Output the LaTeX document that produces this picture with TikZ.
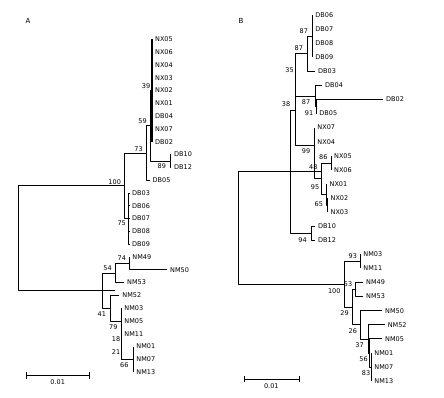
\documentclass[tikz,border=0pt]{standalone}
\usepackage{fontspec}
\setmainfont{DejaVu Sans}
\usetikzlibrary{arrows}

\begin{document}
\begin{tikzpicture}[x=1pt,y=-1pt,line join=bevel,line width=0.7pt,
  leaf/.style={anchor=west,inner xsep=2.8pt,inner ysep=0pt,font=\fontsize{6.5}{7}\selectfont},
  bs/.style={inner sep=0pt,font=\fontsize{6.5}{7}\selectfont},
  clade/.style={line width=1.3pt}]
\useasboundingbox (0,0) rectangle (444,397);
\node[bs,font=\fontsize{7}{8}\selectfont] (titA) at (28,20.7) {A};
\node[bs,font=\fontsize{7}{8}\selectfont] (titB) at (241,20.7) {B};
% tree A
\node[leaf] (aNX05) at (152,39.3) {NX05}; \node[leaf] (aNX06) at (152,52.1) {NX06};
\node[leaf] (aNX04) at (152,64.9) {NX04}; \node[leaf] (aNX03) at (152,77.7) {NX03};
\node[leaf] (aNX02) at (152,90.5) {NX02}; \node[leaf] (aNX01) at (152,103.3) {NX01};
\node[leaf] (aDB04) at (152,116.1) {DB04}; \node[leaf] (aNX07) at (152,128.9) {NX07};
\node[leaf] (aDB02) at (152,141.7) {DB02}; \node[leaf] (aDB10) at (171,154.5) {DB10};
\node[leaf] (aDB12) at (171,167.3) {DB12}; \node[leaf] (aDB05) at (149.5,180.1) {DB05};
\node[leaf] (aDB03) at (129,192.9) {DB03}; \node[leaf] (aDB06) at (129,205.7) {DB06};
\node[leaf] (aDB07) at (129,218.5) {DB07}; \node[leaf] (aDB08) at (129,231.3) {DB08};
\node[leaf] (aDB09) at (129,244.1) {DB09}; \node[leaf] (aNM49) at (129.3,256.9) {NM49};
\node[leaf] (aNM50) at (167,269.7) {NM50}; \node[leaf] (aNM53) at (124,282.5) {NM53};
\node[leaf] (aNM52) at (119.3,295.3) {NM52}; \node[leaf] (aNM03) at (121.3,308.1) {NM03};
\node[leaf] (aNM05) at (121.3,320.9) {NM05}; \node[leaf] (aNM11) at (121.3,333.7) {NM11};
\node[leaf] (aNM01) at (133.3,346.5) {NM01}; \node[leaf] (aNM07) at (133.3,359.3) {NM07};
\node[leaf] (aNM13) at (133.3,372.1) {NM13};
\coordinate (aRoot) at (18,238.1); \coordinate (aRootEnd) at (115,290.5);
\coordinate (a73) at (124,185.7); \coordinate (a59) at (146,152.9);
\coordinate (aJ) at (150.5,125.7); \coordinate (aNX) at (152,90.5);
\coordinate (a89) at (170,160.9); \coordinate (a75) at (128.7,218.5);
\coordinate (a41) at (102.7,290.5); \coordinate (a54) at (115.7,272.9);
\coordinate (a74) at (129.3,263.3); \coordinate (a79) at (110.7,308.1);
\coordinate (a18) at (121.3,320.9); \coordinate (a21) at (121.3,359.3);
\coordinate (a66) at (133.3,359.3);
\draw (aRoot) |- (a73); \draw (aRoot) |- (aRootEnd);
\draw (a73) |- (a59); \draw (a73) |- (a75);
\draw (a59) |- (aJ); \draw (a59) |- (aDB05.west);
\draw (aJ) |- (aNX); \draw (aJ) |- (a89);
\draw[clade] (aNX05.west) -- (aDB02.west);
\draw (a89) |- (aDB10.west); \draw (a89) |- (aDB12.west);
\foreach \l in {DB03,DB06,DB07,DB08,DB09} \draw (a75) |- (a\l.west);
\draw (a41) |- (a54); \draw (a41) |- (a79);
\draw (a54) |- (a74); \draw (a54) |- (aNM53.west);
\draw (a74) |- (aNM49.west); \draw (a74) |- (aNM50.west);
\draw (a79) |- (aNM52.west); \draw (a79) |- (a18);
\draw (aNM03.west) -- (a21); \draw (a21) -- (a66);
\draw[clade] (aNM01.west) -- (aNM13.west);
\node[bs] (aL100) at (114.7,181.7) {100}; \node[bs] (aL73) at (138.5,149) {73};
\node[bs] (aL59) at (142.5,121) {59}; \node[bs] (aL39) at (146,86) {39};
\node[bs] (aL89) at (161.8,166) {89}; \node[bs] (aL75) at (121.7,223) {75};
\node[bs] (aL74) at (121.8,258.3) {74}; \node[bs] (aL54) at (107.5,268.3) {54};
\node[bs] (aL41) at (101.8,314) {41}; \node[bs] (aL79) at (113.3,326.7) {79};
\node[bs] (aL18) at (116,339.3) {18}; \node[bs] (aL21) at (116,352.3) {21};
\node[bs] (aL66) at (124.3,365) {66};
\coordinate (aS1) at (26,375.7); \coordinate (aS2) at (90,375.7);
\draw[|-|] (aS1) -- (aS2);
\node[bs] (aScale) at (57.7,382.5) {0.01};
% tree B
\node[leaf] (bDB06) at (312.3,15) {DB06}; \node[leaf] (bDB07) at (312.3,29.1) {DB07};
\node[leaf] (bDB08) at (312.3,43.2) {DB08}; \node[leaf] (bDB09) at (312.3,57.2) {DB09};
\node[leaf] (bDB03) at (315,71.3) {DB03}; \node[leaf] (bDB04) at (322,85.4) {DB04};
\node[leaf] (bDB02) at (383,99.5) {DB02}; \node[leaf] (bDB05) at (316.3,113.6) {DB05};
\node[leaf] (bNX07) at (314.3,127.6) {NX07}; \node[leaf] (bNX04) at (314.3,141.7) {NX04};
\node[leaf] (bNX05) at (331,155.8) {NX05}; \node[leaf] (bNX06) at (331,169.9) {NX06};
\node[leaf] (bNX01) at (326.5,184) {NX01}; \node[leaf] (bNX02) at (327.5,198) {NX02};
\node[leaf] (bNX03) at (327.5,212.1) {NX03}; \node[leaf] (bDB10) at (315,226.2) {DB10};
\node[leaf] (bDB12) at (315,240.3) {DB12}; \node[leaf] (bNM03) at (360.3,254.4) {NM03};
\node[leaf] (bNM11) at (360.3,268.4) {NM11}; \node[leaf] (bNM49) at (363,282.5) {NM49};
\node[leaf] (bNM53) at (363,296.6) {NM53}; \node[leaf] (bNM50) at (382,310.7) {NM50};
\node[leaf] (bNM52) at (384.7,324.8) {NM52}; \node[leaf] (bNM05) at (382,338.8) {NM05};
\node[leaf] (bNM01) at (371.3,352.9) {NM01}; \node[leaf] (bNM07) at (371.3,367) {NM07};
\node[leaf] (bNM13) at (371.3,381.1) {NM13};
\coordinate (bRoot) at (238.7,228); \coordinate (bTopEnd) at (321.7,171.7);
\coordinate (b38) at (290,171.7); \coordinate (b35) at (295.5,110);
\coordinate (b87a) at (312.3,36.1); \coordinate (b87b) at (307.3,53.7);
\coordinate (b87c) at (315.3,96); \coordinate (b91) at (316.3,106.5);
\coordinate (b99) at (314.3,145.7); \coordinate (b48) at (321.7,178.7);
\coordinate (b86) at (331,162.9); \coordinate (b95) at (326.5,194.5);
\coordinate (b65) at (327.5,205); \coordinate (b94) at (311.3,233.3);
\coordinate (b29) at (344.7,284.3); \coordinate (b93) at (360.3,261.4);
\coordinate (b26) at (352,307.2); \coordinate (b53) at (355.3,289.6);
\coordinate (b37) at (360.3,324.8); \coordinate (bD) at (368,338.9);
\coordinate (bE) at (369.3,352.9); \coordinate (b83) at (371.3,367);
\draw (bRoot) |- (bTopEnd); \draw (bRoot) |- (b29);
\draw (b38) |- (b35); \draw (b38) |- (b94);
\draw (b35) |- (b87b); \draw (b35) |- (b87c); \draw (b35) |- (b99);
\draw (b87b) |- (b87a); \draw (b87b) |- (bDB03.west);
\draw[clade] (bDB06.west) -- (bDB09.west);
\draw (b87c) |- (bDB04.west); \draw (b87c) |- (b91);
\draw (b91) |- (bDB02.west); \draw (b91) |- (bDB05.west);
\draw (b99) |- (bNX07.west); \draw (b99) |- (bNX04.west); \draw (b99) |- (b48);
\draw (b48) |- (b86); \draw (b48) |- (b95);
\draw (b86) |- (bNX05.west); \draw (b86) |- (bNX06.west);
\draw (b95) |- (bNX01.west); \draw (b95) |- (b65);
\draw[clade] (bNX02.west) -- (bNX03.west);
\draw (b94) |- (bDB10.west); \draw (b94) |- (bDB12.west);
\draw (b29) |- (b93); \draw (b29) |- (b26);
\draw (b93) |- (bNM03.west); \draw (b93) |- (bNM11.west);
\draw (b26) |- (b53); \draw (b26) |- (b37);
\draw (b53) |- (bNM49.west); \draw (b53) |- (bNM53.west);
\draw (b37) |- (bNM50.west); \draw (b37) |- (bD);
\draw (bD) |- (bNM52.west); \draw (bD) |- (bE);
\draw (bE) |- (bNM05.west); \draw (bE) |- (b83);
\draw[clade] (bNM01.west) -- (bNM13.west);
\node[bs] (bL87a) at (303.8,30.7) {87}; \node[bs] (bL87b) at (298.8,48.3) {87};
\node[bs] (bL35) at (289.5,70) {35}; \node[bs] (bL38) at (286,104.3) {38};
\node[bs] (bL87c) at (306,101.7) {87}; \node[bs] (bL91) at (309,113.3) {91};
\node[bs] (bL99) at (306,150.7) {99}; \node[bs] (bL48) at (313.3,166.7) {48};
\node[bs] (bL86) at (323.3,157.3) {86}; \node[bs] (bL95) at (315,186.7) {95};
\node[bs] (bL65) at (318.8,204.3) {65}; \node[bs] (bL94) at (302.5,240) {94};
\node[bs] (bL93) at (352.8,256) {93}; \node[bs] (bL53) at (348,284) {53};
\node[bs] (bL100) at (334.2,291) {100}; \node[bs] (bL29) at (344.5,313.3) {29};
\node[bs] (bL26) at (352.8,330.7) {26}; \node[bs] (bL37) at (359.5,345) {37};
\node[bs] (bL56) at (363.5,359) {56}; \node[bs] (bL83) at (366,373.3) {83};
\coordinate (bS1) at (243.7,379); \coordinate (bS2) at (299.3,379);
\draw[|-|] (bS1) -- (bS2);
\node[bs] (bScale) at (271.3,385.7) {0.01};
\end{tikzpicture}
\end{document}
